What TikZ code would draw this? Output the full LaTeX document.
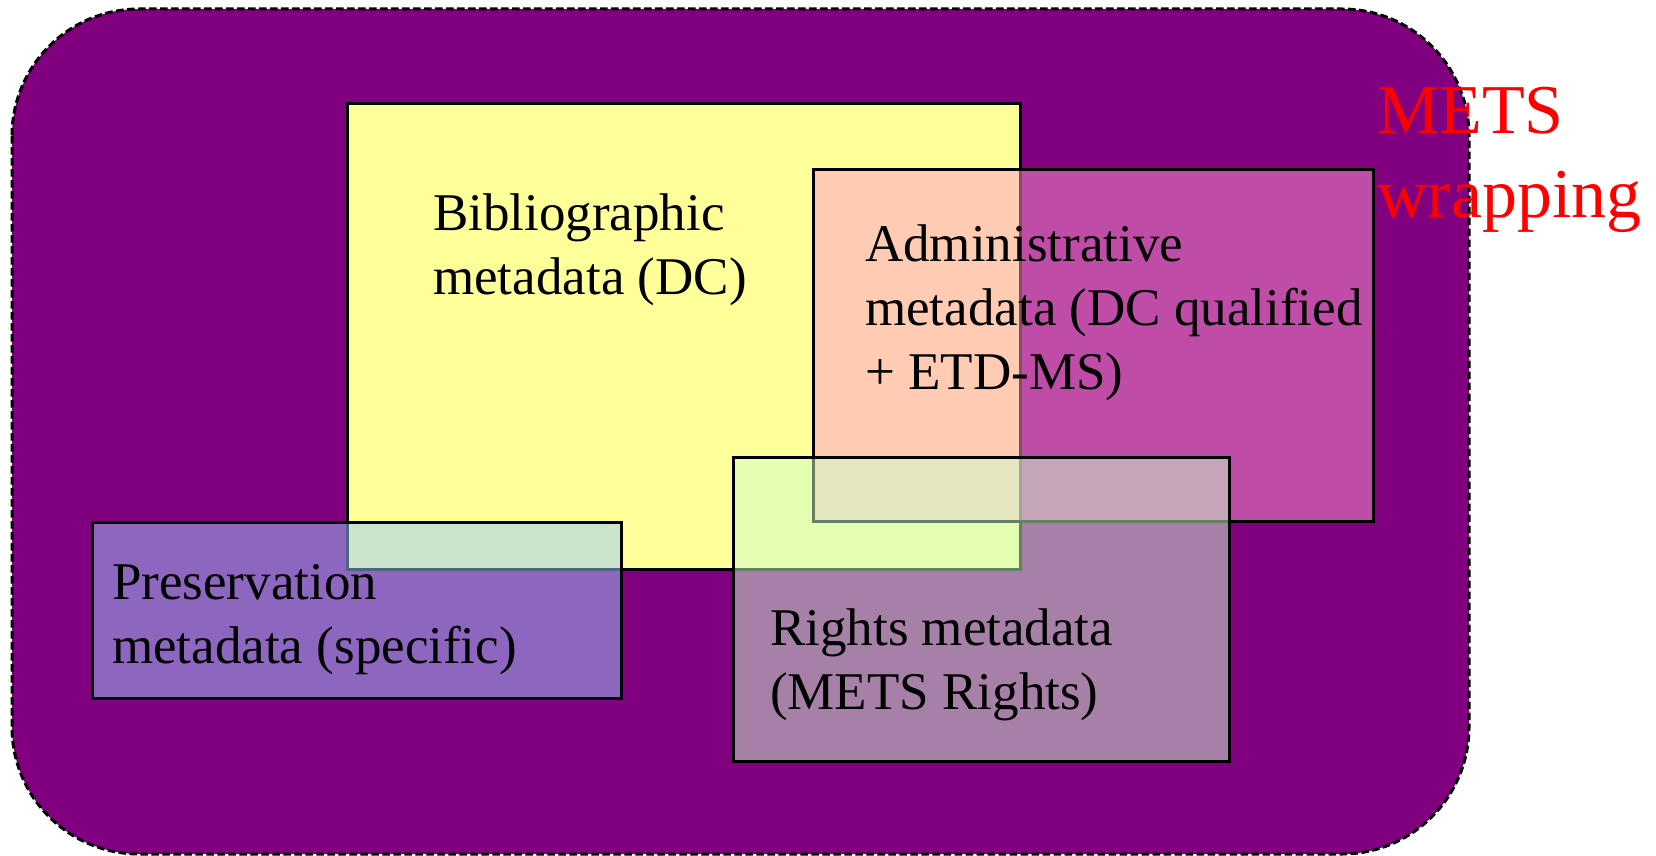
\documentclass[tikz,border=0pt]{standalone}
\usepackage{fontspec}
\setmainfont{Liberation Serif}
\definecolor{metspurple}{HTML}{800080}
\definecolor{bibyellow}{HTML}{FFFF99}
\definecolor{admpink}{HTML}{FF99CC}
\definecolor{presblue}{HTML}{99CCFF}
\definecolor{rightsgreen}{HTML}{CCFFCC}
\tikzset{
  wrapbox/.style={draw=black, line width=3pt, dash pattern=on 7.5pt off 3.5pt, fill=metspurple, rounded corners=127pt},
  mdbox/.style={draw=black, line width=3pt},
  seebox/.style={mdbox, fill opacity=0.5, draw opacity=1},
  boxtext/.style={anchor=base west, inner sep=0pt, align=left, font=\fontsize{53}{64}\selectfont, text=black},
  metstext/.style={anchor=base west, inner sep=0pt, align=left, font=\fontsize{70}{84}\selectfont, text=red}
}
\begin{document}
\begin{tikzpicture}[x=1pt, y=-1pt]
\useasboundingbox (0,0) rectangle (1656,856);
\path[wrapbox] (12,9) rectangle (1469,854);
\path[mdbox, fill=bibyellow] (347,104) rectangle (1020,569);
\path[seebox, fill=admpink] (813,169) rectangle (1373,521);
\path[seebox, fill=presblue] (92,522) rectangle (621,698);
\path[seebox, fill=rightsgreen] (733,457) rectangle (1229,761);
% base anchor of a multi-line node is the baseline of its last line
\node[boxtext] (bib) at (433,294) {Bibliographic\\metadata (DC)};
\node[boxtext] (adm) at (865,389) {Administrative\\metadata (DC qualified\\+ ETD-MS)};
\node[boxtext] (pres) at (112,663) {Preservation\\metadata (specific)};
\node[boxtext] (rights) at (770,709) {Rights metadata\\(METS Rights)};
\node[metstext] (mets) at (1377,217) {METS\\wrapping};
\end{tikzpicture}
\end{document}
